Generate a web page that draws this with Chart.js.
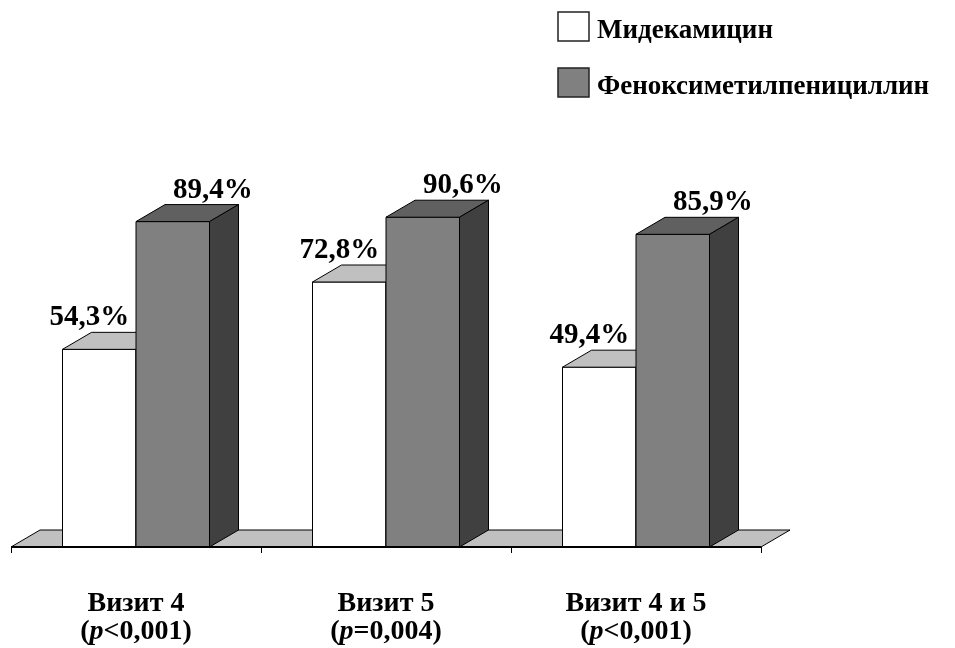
<!DOCTYPE html>
<html>
<head>
<meta charset="utf-8">
<script src="https://cdn.jsdelivr.net/npm/chart.js@4/dist/chart.umd.min.js"></script>
<style>
  html, body { margin: 0; padding: 0; background: #ffffff; }
  #wrap { width: 955px; height: 648px; }
</style>
</head>
<body>
<div id="wrap"><canvas id="c" width="955" height="648"></canvas></div>
<script>
// Visit groups and p-values shown under each group
const categories = ['Визит 4', 'Визит 5', 'Визит 4 и 5'];
const pValues = ['<0,001', '=0,004', '<0,001'];

// Series names and their values, %
const seriesNames = ['Мидекамицин', 'Феноксиметилпенициллин'];
const midecamycin = [54.3, 72.8, 49.4];
const phenoxymethylpenicillin = [89.4, 90.6, 85.9];

// Face colours of the extruded bars: front, top, side
const palette = [
  { front: '#ffffff', top: '#c0c0c0', side: '#a0a0a0' },
  { front: '#808080', top: '#606060', side: '#404040' }
];

const DEPTH_X = 29;   // oblique depth of bars and floor
const DEPTH_Y = -17;
const SERIF = '"Liberation Serif", "Times New Roman", serif';

function fmt(v) { return v.toFixed(1).replace('.', ',') + '%'; }

function poly(ctx, pts, fill) {
  ctx.beginPath();
  ctx.moveTo(pts[0][0], pts[0][1]);
  for (let i = 1; i < pts.length; i++) ctx.lineTo(pts[i][0], pts[i][1]);
  ctx.closePath();
  ctx.fillStyle = fill;
  ctx.fill();
  ctx.stroke();
}

// Draws the floor, the extruded bars and the category axis
const bars3d = {
  id: 'bars3d',
  beforeDatasetsDraw(chart) {
    const { ctx, scales: { x, y } } = chart;
    const n = categories.length;
    const step = x.getPixelForValue(1) - x.getPixelForValue(0);
    const left = x.getPixelForValue(0) - step / 2;
    const right = x.getPixelForValue(n - 1) + step / 2;
    const base = y.getPixelForValue(0);

    ctx.save();
    ctx.lineJoin = 'miter';
    ctx.strokeStyle = '#000000';
    ctx.lineWidth = 1;

    // floor
    poly(ctx, [[left, base], [left + DEPTH_X, base + DEPTH_Y],
               [right + DEPTH_X, base + DEPTH_Y], [right, base]], '#c0c0c0');

    // bars, group by group so nearer faces overlap correctly
    for (let i = 0; i < n; i++) {
      chart.data.datasets.forEach((ds, d) => {
        const el = chart.getDatasetMeta(d).data[i];
        const x0 = el.x - el.width / 2;
        const x1 = el.x + el.width / 2;
        const top = el.y;
        const c = palette[d];
        poly(ctx, [[x0, top], [x1, top], [x1, base], [x0, base]], c.front);
        poly(ctx, [[x0, top], [x0 + DEPTH_X, top + DEPTH_Y],
                   [x1 + DEPTH_X, top + DEPTH_Y], [x1, top]], c.top);
        poly(ctx, [[x1, top], [x1 + DEPTH_X, top + DEPTH_Y],
                   [x1 + DEPTH_X, base + DEPTH_Y], [x1, base]], c.side);
      });
    }

    // category axis line with boundary ticks
    ctx.lineWidth = 2;
    ctx.beginPath();
    ctx.moveTo(left, base);
    ctx.lineTo(right, base);
    ctx.stroke();
    ctx.lineWidth = 1;
    for (let i = 0; i <= n; i++) {
      const tx = Math.round(left + i * step) + 0.5;
      ctx.beginPath();
      ctx.moveTo(tx, base);
      ctx.lineTo(tx, base + 6);
      ctx.stroke();
    }
    ctx.restore();
    return false;
  },
  afterDraw(chart) {
    const { ctx, scales: { x, y } } = chart;
    const base = y.getPixelForValue(0);
    ctx.save();
    ctx.fillStyle = '#000000';
    ctx.textBaseline = 'alphabetic';

    // value labels above each bar
    ctx.font = 'bold 29px ' + SERIF;
    ctx.textAlign = 'center';
    const shift = [-10, 40];
    chart.data.datasets.forEach((ds, d) => {
      chart.getDatasetMeta(d).data.forEach((el, i) => {
        ctx.fillText(fmt(ds.data[i]), el.x + shift[d], el.y + DEPTH_Y - 7);
      });
    });

    // category labels, second line with italic p
    const catFont = 'bold 28px ' + SERIF;
    categories.forEach((label, i) => {
      const cx = x.getPixelForValue(i);
      ctx.font = catFont;
      ctx.textAlign = 'center';
      ctx.fillText(label, cx, base + 64);

      const parts = [
        { t: '(', f: catFont },
        { t: 'p', f: 'italic ' + catFont },
        { t: pValues[i] + ')', f: catFont }
      ];
      let w = 0;
      parts.forEach(p => { ctx.font = p.f; p.w = ctx.measureText(p.t).width; w += p.w; });
      let px = cx - w / 2;
      ctx.textAlign = 'left';
      parts.forEach(p => { ctx.font = p.f; ctx.fillText(p.t, px, base + 92); px += p.w; });
    });

    // legend
    const boxX = 558, boxW = 31, boxH = 29;
    const rows = [12, 68];
    ctx.font = 'bold 27px ' + SERIF;
    ctx.textAlign = 'left';
    chart.data.datasets.forEach((ds, d) => {
      ctx.fillStyle = ds.backgroundColor;
      ctx.strokeStyle = '#222222';
      ctx.lineWidth = 1.5;
      ctx.fillRect(boxX, rows[d], boxW, boxH);
      ctx.strokeRect(boxX, rows[d], boxW, boxH);
      ctx.fillStyle = '#000000';
      ctx.fillText(ds.label, 597, rows[d] + 26);
    });
    ctx.restore();
  }
};

new Chart(document.getElementById('c'), {
  type: 'bar',
  data: {
    labels: categories,
    datasets: [
      { label: seriesNames[0], data: midecamycin, backgroundColor: palette[0].front },
      { label: seriesNames[1], data: phenoxymethylpenicillin, backgroundColor: palette[1].front }
    ]
  },
  options: {
    responsive: false,
    animation: false,
    devicePixelRatio: 1,
    layout: { padding: { left: 11, right: 194, top: 183, bottom: 101 } },
    datasets: { bar: { categoryPercentage: 0.588, barPercentage: 1 } },
    scales: {
      x: { display: false },
      y: { display: false, min: 0, max: 100 }
    },
    plugins: {
      legend: { display: false },
      tooltip: { enabled: false }
    }
  },
  plugins: [bars3d]
});
</script>
</body>
</html>
